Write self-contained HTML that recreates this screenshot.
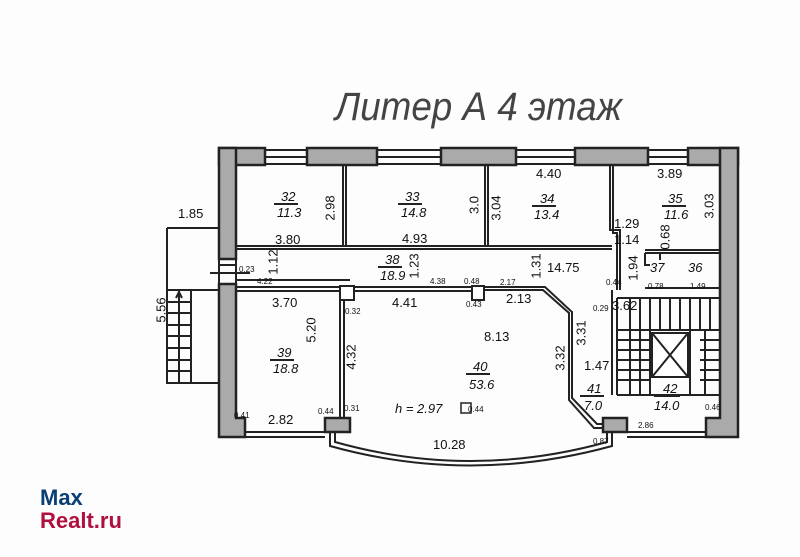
<!DOCTYPE html>
<html><head><meta charset="utf-8"><style>
html,body{margin:0;padding:0;background:#fff;}
svg{display:block;font-family:"Liberation Sans",sans-serif;}
.w{fill:#aaa;stroke:#222;stroke-width:2.5}
.l{stroke:#222;stroke-width:2;fill:none}
.t{font-size:13px;fill:#111}
.v{font-size:13px;fill:#111;text-anchor:middle;dominant-baseline:central}
.s{font-size:8px;fill:#111}
.r{font-size:13px;font-style:italic;fill:#111}
</style></head><body>
<svg width="800" height="557" viewBox="0 0 800 557" xmlns="http://www.w3.org/2000/svg">
<rect width="800" height="557" fill="#fdfdfd"/>
<text x="335" y="120" font-size="40" font-style="italic" fill="#444" textLength="287" lengthAdjust="spacingAndGlyphs">Литер А 4 этаж</text>

<rect class="w" x="219" y="148" width="46" height="17"/>
<rect class="w" x="307" y="148" width="70" height="17"/>
<rect class="w" x="441" y="148" width="75" height="17"/>
<rect class="w" x="575" y="148" width="73" height="17"/>
<rect class="w" x="688" y="148" width="50" height="17"/>
<g class="l" stroke-width="1.5">
<path d="M265 150H307M265 157H307M265 164H307"/>
<path d="M377 150H441M377 157H441M377 164H441"/>
<path d="M516 150H575M516 157H575M516 164H575"/>
<path d="M648 150H688M648 157H688M648 164H688"/>
</g>
<rect class="w" x="219" y="148" width="17" height="111"/>
<path class="w" d="M219 284H236V418H245V437H219Z"/>
<path class="w" d="M720 148H738V437H706V418H720Z"/>
<path class="l" stroke-width="1.5" d="M219 259V284M236 259V284M219 265H236M210 273H250M236 280H350"/>
<path class="l" stroke-width="1.5" d="M167 228H219M167 228V383H219M167 290H219M191 290V383M179 290V383"/>
<path class="l" stroke-width="1.2" d="M167 302H191M167 313H191M167 325H191M167 336H191M167 348H191M167 360H191M167 371H191M179 312L179 293M176 298L179 292L182 298"/>

<g class="l">
<path d="M236 246H612M236 249H612"/>
<path d="M343 165V246M346 165V246"/>
<path d="M485 165V246M488 165V246"/>
<path d="M610 165V230H620V290M613 165V233H617V290"/>
<path d="M236 287H472M236 291H472"/>
<path d="M484 287H545L572 312V398L597 424H605M484 290H543L569 313V400L594 428H605"/>
<path d="M340 291V433M344 300V418"/>
<path d="M645 250H720M645 253H720M645 253V265H650M645 288H720M660 253V260"/>
<path d="M612 290V395M617 298V395"/>
</g>
<rect x="340" y="286" width="14" height="14" fill="#fff" stroke="#222" stroke-width="2"/>
<rect x="472" y="286" width="12" height="14" fill="#fff" stroke="#222" stroke-width="2"/>
<path class="l" d="M245 432H325M245 437H325M627 432H705M627 437H705"/>
<rect class="w" x="325" y="418" width="25" height="14"/>
<rect class="w" x="603" y="418" width="24" height="14"/>
<path class="l" d="M330 432V446Q470 485 612 446V432M335 432V442Q470 480 607 442V432" stroke-width="1.8"/>
<rect x="461" y="403" width="10" height="10" fill="#fff" stroke="#222" stroke-width="1.5"/>
<g class="l" stroke-width="1.3">
<path d="M617 298H720M650 298V395M690 298V395M617 330H720M617 395H720"/>
<path d="M630 298V330M640 298V330M660 298V330M670 298V330M680 298V330M700 298V330M710 298V330"/>
<path d="M617 340H650M617 350H650M617 360H650M617 370H650M617 380H650M630 330V395M640 330V395M700 340H720M700 350H720M700 360H720M700 370H720M700 380H720M705 330V395"/>
</g>
<rect x="652" y="333" width="36" height="44" fill="#fff" stroke="#222" stroke-width="2"/>
<path class="l" stroke-width="1.3" d="M652 333L688 377M688 333L652 377"/>

<text class="t" x="178" y="218">1.85</text>
<text class="v" transform="translate(161 310) rotate(-90)">5.56</text>
<text class="r" x="281" y="201">32</text><path d="M274 204H298" class="l" stroke-width="1"/><text class="r" x="277" y="217">11.3</text>
<text class="v" transform="translate(330 208) rotate(-90)">2.98</text>
<text class="r" x="405" y="201">33</text><path d="M398 204H422" class="l" stroke-width="1"/><text class="r" x="401" y="217">14.8</text>
<text class="v" transform="translate(474 205) rotate(-90)">3.0</text>
<text class="v" transform="translate(496 208) rotate(-90)">3.04</text>
<text class="t" x="536" y="178">4.40</text>
<text class="r" x="540" y="203">34</text><path d="M532 206H556" class="l" stroke-width="1"/><text class="r" x="534" y="219">13.4</text>
<text class="t" x="657" y="178">3.89</text>
<text class="r" x="668" y="203">35</text><path d="M662 206H686" class="l" stroke-width="1"/><text class="r" x="664" y="219">11.6</text>
<text class="v" transform="translate(709 206) rotate(-90)">3.03</text>
<text class="t" x="275" y="244">3.80</text>
<text class="t" x="402" y="243">4.93</text>
<text class="t" x="614" y="228">1.29</text>
<text class="t" x="614" y="244">1.14</text>
<text class="v" transform="translate(665 237) rotate(-90)">0.68</text>
<text class="t" x="547" y="272">14.75</text>
<text class="v" transform="translate(536 266) rotate(-90)">1.31</text>
<text class="v" transform="translate(633 268) rotate(-90)">1.94</text>
<text class="v" transform="translate(273 262) rotate(-90)">1.12</text>
<text class="v" transform="translate(414 266) rotate(-90)">1.23</text>
<text class="r" x="385" y="264">38</text><path d="M378 267H402" class="l" stroke-width="1"/><text class="r" x="380" y="280">18.9</text>
<text class="r" x="650" y="272">37</text><text class="r" x="688" y="272">36</text>
<text class="s" x="648" y="289">0.78</text><text class="s" x="690" y="289">1.49</text>
<text class="s" x="257" y="284">4.22</text><text class="s" x="239" y="272">0.23</text>
<text class="s" x="430" y="284">4.38</text><text class="s" x="500" y="285">2.17</text>
<text class="s" x="464" y="284">0.48</text><text class="s" x="606" y="285">0.44</text>
<text class="s" x="345" y="314">0.32</text><text class="s" x="466" y="307">0.43</text><text class="s" x="593" y="311">0.29</text>
<text class="t" x="272" y="307">3.70</text>
<text class="t" x="392" y="307">4.41</text>
<text class="t" x="506" y="303">2.13</text>
<text class="t" x="484" y="341">8.13</text>
<text class="t" x="612" y="310">3.62</text>
<text class="v" transform="translate(311 330) rotate(-90)">5.20</text>
<text class="v" transform="translate(351 357) rotate(-90)">4.32</text>
<text class="v" transform="translate(581 333) rotate(-90)">3.31</text>
<text class="v" transform="translate(560 358) rotate(-90)">3.32</text>
<text class="t" x="584" y="370">1.47</text>
<text class="r" x="277" y="357">39</text><path d="M270 360H294" class="l" stroke-width="1"/><text class="r" x="273" y="373">18.8</text>
<text class="r" x="473" y="371">40</text><path d="M466 374H490" class="l" stroke-width="1"/><text class="r" x="469" y="389">53.6</text>
<text class="r" x="587" y="393">41</text><path d="M580 396H604" class="l" stroke-width="1"/><text class="r" x="584" y="410">7.0</text>
<text class="r" x="663" y="393">42</text><path d="M654 396H680" class="l" stroke-width="1"/><text class="r" x="654" y="410">14.0</text>
<text class="r" x="395" y="413">h = 2.97</text>
<text class="t" x="268" y="424">2.82</text>
<text class="t" x="433" y="449">10.28</text>
<text class="s" x="468" y="412">0.44</text><text class="s" x="638" y="428">2.86</text>
<text class="s" x="593" y="444">0.87</text><text class="s" x="705" y="410">0.46</text>
<text class="s" x="234" y="418">0.41</text><text class="s" x="318" y="414">0.44</text><text class="s" x="344" y="411">0.31</text>
<text x="40" y="505" font-size="22" font-weight="bold" fill="#0b3e73">Max</text>
<text x="40" y="528" font-size="22" font-weight="bold" fill="#b0103e">Realt.ru</text>
</svg>
</body></html>
